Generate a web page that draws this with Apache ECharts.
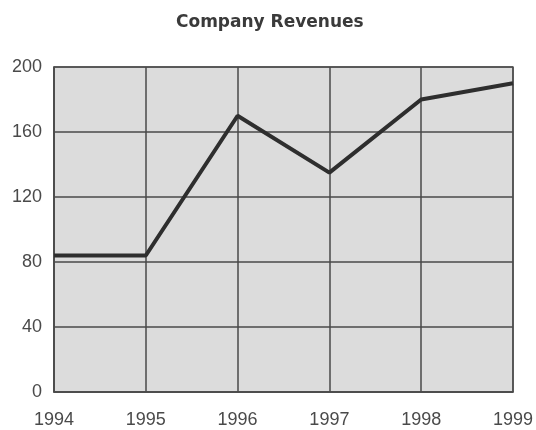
<!DOCTYPE html>
<html>
<head>
<meta charset="utf-8">
<script src="https://cdn.jsdelivr.net/npm/echarts@6/dist/echarts.min.js"></script>
<style>
  html, body { margin: 0; padding: 0; background: #fff; }
  #chart { width: 536px; height: 430px; }
</style>
</head>
<body>
<div id="chart"></div>
<script>
// chart data
const years = ['1994', '1995', '1996', '1997', '1998', '1999']
const revenues = [84, 84, 170, 135, 180, 190]
const yTicks = [0, 40, 80, 120, 160, 200]

const chart = echarts.init(document.getElementById('chart'))

const gridColor = '#4a4a4a'
const labelStyle = {
  color: '#4a4a4a',
  fontSize: 18,
  fontFamily: 'Liberation Sans, Arial, sans-serif'
}

const option = {
  animation: false,
  title: {
    text: 'Company Revenues',
    left: 171,
    top: 9,
    textStyle: {
      fontSize: 17,
      fontWeight: 'bold',
      color: '#3a3a3a',
      fontFamily: 'DejaVu Sans, sans-serif'
    }
  },
  grid: {
    left: 54,
    right: 21,
    top: 67,
    bottom: 38,
    show: true,
    backgroundColor: '#dcdcdc',
    borderColor: '#666',
    borderWidth: 1.5
  },
  xAxis: {
    type: 'category',
    boundaryGap: false,
    data: years,
    axisLine: { show: true, lineStyle: { color: gridColor, width: 1.5 } },
    axisTick: { show: false },
    axisLabel: { ...labelStyle, margin: 19 },
    splitLine: { show: true, lineStyle: { color: gridColor, width: 1.5 } }
  },
  yAxis: {
    type: 'value',
    min: yTicks[0],
    max: yTicks[yTicks.length - 1],
    interval: 40,
    axisLine: { show: true, lineStyle: { color: gridColor, width: 1.5 } },
    axisTick: { show: false },
    axisLabel: { ...labelStyle, margin: 12 },
    splitLine: { show: true, lineStyle: { color: gridColor, width: 1.5 } }
  },
  series: [
    {
      name: 'Revenues',
      type: 'line',
      data: revenues,
      symbol: 'none',
      lineStyle: { color: '#2e2e2e', width: 4 },
      z: 5
    }
  ]
}

chart.setOption(option)
</script>
</body>
</html>
